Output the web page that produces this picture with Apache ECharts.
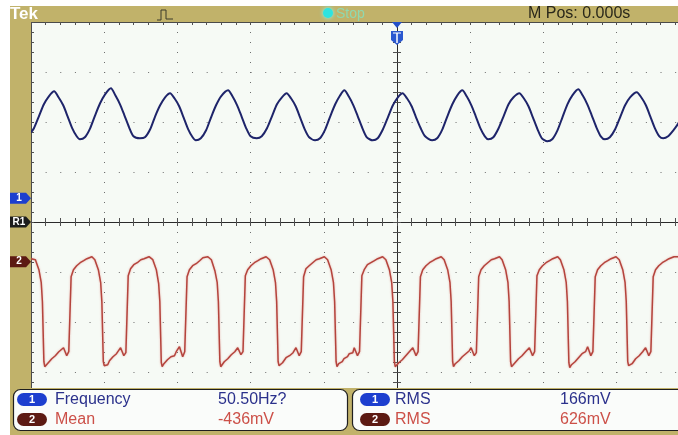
<!DOCTYPE html>
<html>
<head>
<meta charset="utf-8">
<script src="https://cdn.jsdelivr.net/npm/echarts@6/dist/echarts.min.js"></script>
<style>
html,body{margin:0;padding:0;background:#fff;}
#scope{width:678px;height:435px;}
</style>
</head>
<body>
<div id="scope"></div>
<script>
// Timebase: 25 ms/div, trigger at 0 ms, 10 divisions across
const timeMin = -125;
const timeMax = 125;
const timePerDiv = 25;
// Vertical: 500 mV/div on both channels, 8 divisions
const voltsPerDiv = 0.5;
const ch1GroundDiv = 0.474;   // channel 1 ground marker, divisions above centre
const ch2GroundDiv = -0.794;  // channel 2 ground marker, divisions above centre

// Channel 1 trace: [time ms, volts]
const ch1Points = [
  [-125.0,0.66],[-124.0,0.70],[-122.3,0.82],[-120.6,0.94],[-118.9,1.02],[-117.1,1.07],
  [-115.6,1.01],[-114.0,0.93],[-112.5,0.82],[-110.9,0.70],[-109.4,0.62],[-108.3,0.59],
  [-106.6,0.61],[-104.8,0.70],[-103.1,0.83],[-101.4,0.95],[-99.7,1.04],[-97.7,1.10],
  [-96.2,1.03],[-94.6,0.94],[-93.1,0.83],[-91.5,0.71],[-90.0,0.62],[-87.8,0.60],
  [-86.1,0.61],[-84.3,0.69],[-82.6,0.82],[-80.9,0.93],[-79.2,1.01],[-77.5,1.05],
  [-76.0,1.00],[-74.4,0.92],[-72.9,0.81],[-71.3,0.69],[-69.8,0.61],[-68.7,0.58],
  [-67.0,0.60],[-65.2,0.68],[-63.5,0.81],[-61.8,0.93],[-60.1,1.02],[-57.7,1.08],
  [-56.2,1.02],[-54.6,0.93],[-53.1,0.82],[-51.5,0.70],[-50.0,0.62],[-47.9,0.60],
  [-46.2,0.62],[-44.4,0.70],[-42.7,0.82],[-41.0,0.94],[-39.3,1.01],[-37.7,1.05],
  [-36.2,1.00],[-34.6,0.92],[-33.1,0.81],[-31.5,0.69],[-30.0,0.61],[-28.0,0.58],
  [-26.3,0.60],[-24.5,0.69],[-22.8,0.82],[-21.1,0.94],[-19.4,1.03],[-18.0,1.08],
  [-16.5,1.02],[-14.9,0.93],[-13.4,0.82],[-11.8,0.70],[-10.3,0.61],[-8.3,0.58],
  [-6.6,0.60],[-4.8,0.69],[-3.1,0.81],[-1.4,0.93],[0.3,1.01],[1.9,1.05],
  [3.4,1.00],[5.0,0.92],[6.5,0.81],[8.1,0.70],[9.6,0.62],[12.0,0.58],
  [13.7,0.60],[15.5,0.69],[17.2,0.82],[18.9,0.94],[20.6,1.03],[22.3,1.08],
  [23.8,1.02],[25.4,0.93],[26.9,0.82],[28.5,0.70],[30.0,0.62],[31.2,0.59],
  [32.9,0.61],[34.7,0.70],[36.4,0.82],[38.1,0.94],[39.8,1.01],[41.8,1.05],
  [43.3,1.00],[44.9,0.92],[46.4,0.81],[48.0,0.69],[49.5,0.60],[51.3,0.57],
  [53.0,0.59],[54.8,0.68],[56.5,0.81],[58.2,0.94],[59.9,1.03],[61.9,1.09],
  [63.4,1.03],[65.0,0.94],[66.5,0.83],[68.1,0.71],[69.6,0.62],[71.0,0.59],
  [72.7,0.61],[74.5,0.69],[76.2,0.81],[77.9,0.93],[79.6,1.01],[81.9,1.06],
  [83.4,1.01],[85.0,0.93],[86.5,0.82],[88.1,0.70],[89.6,0.62],[90.9,0.60],
  [92.6,0.62],[94.4,0.68],[96.1,0.75],[97.8,0.88]
];

// Channel 2 trace: [time ms, volts]
const ch2Points = [
  [-125.0,0.03],[-123.5,0.02],[-122.3,-0.08],[-121.5,-0.21],[-121.1,-0.40],
  [-120.6,-1.00],[-120.3,-1.05],[-119.7,-1.03],[-119.1,-1.01],[-118.5,-1.02],[-117.9,-0.97],[-117.3,-0.98],[-116.7,-0.94],[-116.1,-0.93],[-115.5,-0.90],[-114.9,-0.91],[-113.9,-0.86],[-112.8,-0.94],[-112.1,-0.90],[-111.5,-0.90],
  [-111.3,-0.15],[-110.5,-0.08],[-109.4,-0.04],[-108.2,-0.01],[-107.0,0.01],[-105.9,0.03],[-104.2,0.05],[-103.2,0.02],[-102.0,-0.08],[-101.2,-0.21],[-100.8,-0.40],
  [-100.3,-1.00],[-100.0,-1.04],[-99.4,-1.02],[-98.8,-1.03],[-98.2,-0.99],[-97.6,-0.98],[-97.0,-0.95],[-96.4,-0.96],[-95.8,-0.92],[-95.2,-0.91],[-94.4,-0.86],[-93.3,-0.94],[-92.6,-0.91],[-92.0,-0.89],
  [-91.8,-0.14],[-91.0,-0.07],[-89.9,-0.03],[-88.7,-0.01],[-87.5,0.02],[-86.4,0.03],[-84.7,0.05],[-83.4,0.02],[-82.2,-0.08],[-81.4,-0.22],[-81.0,-0.40],
  [-80.5,-1.01],[-80.2,-1.05],[-79.6,-1.02],[-79.0,-1.03],[-78.4,-0.98],[-77.8,-0.99],[-77.2,-0.95],[-76.6,-0.93],[-76.0,-0.94],[-75.4,-0.90],[-74.8,-0.90],[-74.3,-0.85],[-73.2,-0.95],[-72.5,-0.90],[-71.9,-0.91],
  [-71.7,-0.15],[-70.9,-0.08],[-69.8,-0.04],[-68.6,-0.02],[-67.4,0.01],[-66.3,0.04],[-64.6,0.05],[-63.4,0.02],[-62.2,-0.09],[-61.4,-0.21],[-61.0,-0.40],
  [-60.5,-1.00],[-60.2,-1.05],[-59.6,-1.03],[-59.0,-1.00],[-58.4,-1.01],[-57.8,-0.97],[-57.2,-0.97],[-56.6,-0.93],[-56.0,-0.94],[-55.4,-0.90],[-54.8,-0.91],[-54.4,-0.86],[-53.3,-0.93],[-52.6,-0.90],[-52.0,-0.90],
  [-51.8,-0.14],[-51.0,-0.08],[-49.9,-0.04],[-48.7,-0.01],[-47.5,0.01],[-46.4,0.03],[-44.7,0.05],[-43.5,0.02],[-42.3,-0.08],[-41.5,-0.21],[-41.1,-0.40],
  [-40.6,-1.00],[-40.3,-1.04],[-39.7,-1.03],[-39.1,-1.01],[-38.5,-1.02],[-37.9,-0.96],[-37.3,-0.98],[-36.7,-0.94],[-36.1,-0.92],[-35.5,-0.91],[-34.9,-0.90],[-34.5,-0.86],[-33.4,-0.94],[-32.7,-0.90],[-32.1,-0.89],
  [-31.9,-0.15],[-31.1,-0.07],[-30.0,-0.04],[-28.8,-0.01],[-27.6,0.02],[-26.5,0.03],[-24.8,0.05],[-23.7,0.02],[-22.5,-0.08],[-21.7,-0.21],[-21.3,-0.40],
  [-20.8,-1.00],[-20.5,-1.05],[-19.9,-1.02],[-19.3,-1.02],[-18.7,-1.00],[-18.1,-0.97],[-17.5,-0.96],[-16.9,-0.95],[-16.3,-0.92],[-15.7,-0.90],[-15.1,-0.91],[-14.6,-0.86],[-13.5,-0.94],[-12.8,-0.90],[-12.2,-0.90],
  [-12.0,-0.14],[-11.2,-0.08],[-10.1,-0.03],[-8.9,-0.01],[-7.7,0.01],[-6.6,0.03],[-4.9,0.05],[-3.8,0.02],[-2.6,-0.08],[-1.8,-0.21],[-1.4,-0.40],
  [-0.9,-1.00],[-0.6,-1.05],[0.0,-1.03],[0.6,-1.01],[1.2,-1.01],[1.8,-0.98],[2.4,-0.97],[3.0,-0.94],[3.6,-0.94],[4.2,-0.90],[4.8,-0.91],[5.4,-0.86],[6.5,-0.94],[7.2,-0.90],[7.8,-0.90],
  [8.0,-0.15],[8.8,-0.08],[9.9,-0.04],[11.1,-0.01],[12.3,0.01],[13.4,0.03],[15.1,0.05],[16.1,0.02],[17.3,-0.08],[18.1,-0.21],[18.5,-0.40],
  [19.0,-1.00],[19.3,-1.05],[19.9,-1.02],[20.5,-1.03],[21.1,-0.99],[21.7,-0.98],[22.3,-0.95],[22.9,-0.95],[23.5,-0.92],[24.1,-0.91],[24.7,-0.89],[25.3,-0.86],[26.4,-0.94],[27.1,-0.91],[27.7,-0.90],
  [27.9,-0.15],[28.7,-0.08],[29.8,-0.04],[31.0,-0.01],[32.2,0.02],[33.3,0.03],[35.0,0.05],[35.9,0.02],[37.1,-0.08],[37.9,-0.21],[38.3,-0.40],
  [38.8,-1.00],[39.1,-1.05],[39.7,-1.03],[40.3,-1.01],[40.9,-1.02],[41.5,-0.97],[42.1,-0.98],[42.7,-0.94],[43.3,-0.93],[43.9,-0.90],[44.5,-0.91],[45.2,-0.86],[46.3,-0.94],[47.0,-0.90],[47.6,-0.90],
  [47.8,-0.14],[48.6,-0.08],[49.7,-0.04],[50.9,-0.01],[52.1,0.01],[53.2,0.03],[54.9,0.05],[55.8,0.02],[57.0,-0.08],[57.8,-0.21],[58.2,-0.40],
  [58.7,-1.01],[59.0,-1.06],[59.6,-1.03],[60.2,-1.02],[60.8,-1.00],[61.4,-0.98],[62.0,-0.96],[62.6,-0.95],[63.2,-0.92],[63.8,-0.91],[64.4,-0.90],[65.1,-0.85],[66.2,-0.94],[66.9,-0.90],[67.5,-0.91],
  [67.7,-0.15],[68.5,-0.08],[69.6,-0.04],[70.8,-0.01],[72.0,0.01],[73.1,0.03],[74.8,0.05],[75.9,0.02],[77.1,-0.08],[77.9,-0.21],[78.3,-0.40],
  [78.8,-1.00],[79.1,-1.04],[79.7,-1.02],[80.3,-1.02],[80.9,-1.00],[81.5,-0.97],[82.1,-0.97],[82.7,-0.94],[83.3,-0.93],[83.9,-0.90],[84.5,-0.90],[84.9,-0.86],[86.0,-0.94],[86.7,-0.90],[87.3,-0.90],
  [87.5,-0.15],[88.3,-0.08],[89.4,-0.04],[90.6,-0.01],[91.8,0.01],[92.9,0.03],[94.6,0.05],[97.0,0.05],[100.0,0.04]
];

// Measurement readouts: channel, name, value
const measureChannels = [1, 2, 1, 2];
const measureNames = ['Frequency', 'Mean', 'RMS', 'RMS'];
const measureValues = ['50.50Hz?', '-436mV', '166mV', '626mV'];

const headerRight = 'M Pos: 0.000s';
const runState = 'Stop';

// Screen geometry (graticule runs past the right edge of the view)
const SCR = { left: 31, top: 22, width: 732, height: 400 };
const OLIVE = '#c1b26a';
const SCREEN_BG = '#f6faf5';
const DOT = '#6e6e6e';
const BLUE_TXT = '#2b318c';
const RED_TXT = '#cc5048';
const CH1_BADGE = '#1d3fcf';
const CH2_BADGE = '#5c1a12';

const chart = echarts.init(document.getElementById('scope'), null, { renderer: 'canvas' });

const divY = (SCR.height / 8);
const hDot = (SCR.width / 10) / 5;   // dot pitch along horizontal lines
const vDot = divY / 5;               // dot pitch along vertical lines

function chAxis(groundDiv) {
  return {
    type: 'value', show: false, gridIndex: 0,
    min: (-4 - groundDiv) * voltsPerDiv,
    max: (4 - groundDiv) * voltsPerDiv
  };
}

const tickStyle = { color: '#505050', width: 1 };

const option = {
  animation: false,
  backgroundColor: '#ffffff',
  grid: [{
    left: SCR.left, top: SCR.top, width: SCR.width, height: SCR.height,
    containLabel: false, outerBoundsMode: 'none',
    show: true, backgroundColor: SCREEN_BG, borderWidth: 0
  }],
  xAxis: [
    { // time axis: dotted vertical graticule
      type: 'value', min: timeMin, max: timeMax, interval: timePerDiv,
      position: 'bottom',
      axisLine: { show: false, onZero: false }, axisTick: { show: false }, axisLabel: { show: false },
      splitLine: { show: true, lineStyle: { color: DOT, width: 1, type: [1, vDot - 1] } }
    },
    { // top border with ticks
      type: 'value', min: timeMin, max: timeMax, interval: timePerDiv, position: 'top',
      axisLine: { show: true, onZero: false, lineStyle: { color: '#4a4a4a', width: 1 } },
      axisTick: { show: true, inside: true, length: 3, lineStyle: tickStyle },
      minorTick: { show: true, splitNumber: 5, length: 3, lineStyle: tickStyle },
      axisLabel: { show: false }, splitLine: { show: false }
    },
    { // centre horizontal line, ticks upward
      type: 'value', min: timeMin, max: timeMax, interval: timePerDiv, position: 'bottom',
      axisLine: { show: true, onZero: true, onZeroAxisIndex: 0, lineStyle: { color: '#2a2a2a', width: 1 } },
      axisTick: { show: true, inside: true, length: 4, lineStyle: tickStyle },
      minorTick: { show: true, splitNumber: 5, length: 4, lineStyle: tickStyle },
      axisLabel: { show: false }, splitLine: { show: false }
    },
    { // centre horizontal line, ticks downward
      type: 'value', min: timeMin, max: timeMax, interval: timePerDiv, position: 'bottom',
      axisLine: { show: false, onZero: true, onZeroAxisIndex: 0 },
      axisTick: { show: true, inside: false, length: 4, lineStyle: tickStyle },
      minorTick: { show: true, splitNumber: 5, length: 4, lineStyle: tickStyle },
      axisLabel: { show: false }, splitLine: { show: false }
    }
  ],
  yAxis: [
    { // divisions: dotted horizontal graticule + left border
      type: 'value', min: -4, max: 4, interval: 1, position: 'left',
      axisLine: { show: true, onZero: false, lineStyle: { color: '#4a4a4a', width: 1 } },
      axisTick: { show: true, inside: true, length: 3, lineStyle: tickStyle },
      minorTick: { show: true, splitNumber: 5, length: 3, lineStyle: tickStyle },
      axisLabel: { show: false },
      splitLine: { show: true, lineStyle: { color: DOT, width: 1, type: [1, hDot - 1] } }
    },
    chAxis(ch1GroundDiv),
    chAxis(ch2GroundDiv),
    { // centre vertical line, ticks to the right
      type: 'value', min: -4, max: 4, interval: 1, position: 'left',
      axisLine: { show: true, onZero: true, onZeroAxisIndex: 0, lineStyle: { color: '#2a2a2a', width: 1 } },
      axisTick: { show: true, inside: true, length: 4, lineStyle: tickStyle },
      minorTick: { show: true, splitNumber: 5, length: 4, lineStyle: tickStyle },
      axisLabel: { show: false }, splitLine: { show: false }
    },
    { // centre vertical line, ticks to the left
      type: 'value', min: -4, max: 4, interval: 1, position: 'left',
      axisLine: { show: false, onZero: true, onZeroAxisIndex: 0 },
      axisTick: { show: true, inside: false, length: 4, lineStyle: tickStyle },
      minorTick: { show: true, splitNumber: 5, length: 4, lineStyle: tickStyle },
      axisLabel: { show: false }, splitLine: { show: false }
    }
  ],
  series: [
    {
      name: 'CH1', type: 'line', xAxisIndex: 0, yAxisIndex: 1,
      data: ch1Points, showSymbol: false, smooth: 0.25, clip: true, z: 5,
      lineStyle: { color: '#1e246a', width: 2 }
    },
    {
      name: 'CH2', type: 'line', xAxisIndex: 0, yAxisIndex: 2,
      data: ch2Points, showSymbol: false, smooth: false, clip: true, z: 5,
      lineStyle: { color: '#b4443d', width: 1.5, shadowBlur: 2, shadowColor: 'rgba(220,120,110,0.6)' }
    }
  ],
  graphic: []
};

// Frame, header and readout panel
const g = [];
// header band and left strip
g.push({ type: 'rect', shape: { x: 10, y: 6, width: 668, height: 16 }, style: { fill: OLIVE }, z: 50 });
g.push({ type: 'rect', shape: { x: 10, y: 6, width: 21, height: 429 }, style: { fill: OLIVE }, z: 50 });
// bottom panel background
g.push({ type: 'rect', shape: { x: 10, y: 388, width: 668, height: 47 }, style: { fill: OLIVE }, z: 50 });

g.push({ type: 'text', x: 10, y: 14, z: 60, style: {
  text: 'Tek', fill: '#ffffff', fontSize: 17, fontWeight: 'bold', fontFamily: 'Liberation Sans', verticalAlign: 'middle'
}});
// trigger type symbol
g.push({ type: 'polyline', z: 60, shape: { points: [[157,20],[161,20],[161,10],[166,10],[166,19],[173,19]] },
  style: { stroke: '#3a3a2a', lineWidth: 1, fill: null } });
// acquisition status
g.push({ type: 'circle', z: 60, shape: { cx: 328, cy: 13, r: 5 }, style: { fill: '#2ee3e0', shadowBlur: 4, shadowColor: '#7ff' } });
g.push({ type: 'text', x: 336, y: 14, z: 60, style: {
  text: runState, fill: '#8fd9b0', fontSize: 14, fontFamily: 'Liberation Sans', verticalAlign: 'middle'
}});
g.push({ type: 'text', x: 528, y: 14, z: 60, style: {
  text: headerRight, fill: '#2a281a', fontSize: 16, fontFamily: 'Liberation Sans', verticalAlign: 'middle'
}});

// trigger position marker
g.push({ type: 'polygon', z: 60, shape: { points: [[392,22],[402,22],[397,28]] }, style: { fill: '#2450c8' } });
g.push({ type: 'polygon', z: 60, shape: { points: [[391,31],[403,31],[403,40],[397,45],[391,40]] }, style: { fill: '#2a58d0' } });
g.push({ type: 'line', z: 61, shape: { x1: 397, y1: 33, x2: 397, y2: 43 }, style: { stroke: '#ffffff', lineWidth: 1.5 } });
g.push({ type: 'line', z: 61, shape: { x1: 393, y1: 33, x2: 401, y2: 33 }, style: { stroke: '#ffffff', lineWidth: 1 } });

// left-side channel markers
function marker(yc, fill, label) {
  g.push({ type: 'polygon', z: 60, shape: { points: [[10,yc-5.5],[26,yc-5.5],[31,yc],[26,yc+5.5],[10,yc+5.5]] }, style: { fill: fill } });
  g.push({ type: 'text', x: 19, y: yc, z: 61, style: {
    text: label, fill: '#ffffff', fontSize: 10, fontWeight: 'bold', fontFamily: 'Liberation Sans', align: 'center', verticalAlign: 'middle'
  }});
}

// readout boxes
g.push({ type: 'rect', z: 60, shape: { x: 13.5, y: 389.5, width: 334, height: 41, r: 7 }, style: { fill: '#fafcfa', stroke: '#1e1e1e', lineWidth: 1.2 } });
g.push({ type: 'rect', z: 60, shape: { x: 352.5, y: 389.5, width: 345, height: 41, r: 7 }, style: { fill: '#fafcfa', stroke: '#1e1e1e', lineWidth: 1.2 } });

const rowY = [400, 420];
const colBadgeX = [17, 360];
const colNameX = [55, 395];
const colValueX = [218, 560];
measureNames.forEach(function (name, i) {
  const col = Math.floor(i / 2), row = i % 2;
  const ch = measureChannels[i];
  const badgeFill = ch === 1 ? CH1_BADGE : CH2_BADGE;
  const txt = ch === 1 ? BLUE_TXT : RED_TXT;
  const y = rowY[row];
  g.push({ type: 'rect', z: 62, shape: { x: colBadgeX[col], y: y - 7, width: 30, height: 13, r: 6.5 }, style: { fill: badgeFill } });
  g.push({ type: 'text', x: colBadgeX[col] + 15, y: y - 0.5, z: 63, style: {
    text: String(ch), fill: '#ffffff', fontSize: 11, fontWeight: 'bold', fontFamily: 'Liberation Sans', align: 'center', verticalAlign: 'middle'
  }});
  g.push({ type: 'text', x: colNameX[col], y: y, z: 63, style: {
    text: name, fill: txt, fontSize: 16, fontFamily: 'Liberation Sans', verticalAlign: 'middle'
  }});
  g.push({ type: 'text', x: colValueX[col], y: y, z: 63, style: {
    text: measureValues[i], fill: txt, fontSize: 16, fontFamily: 'Liberation Sans', verticalAlign: 'middle'
  }});
});

option.graphic = g;
chart.setOption(option);

// channel markers sit at each channel's ground level on the screen
const y1 = chart.convertToPixel({ yAxisIndex: 1 }, 0);
const y0 = chart.convertToPixel({ yAxisIndex: 0 }, 0);
const y2 = chart.convertToPixel({ yAxisIndex: 2 }, 0);
marker(y1, CH1_BADGE, '1');
marker(y0, '#1c1c1c', 'R1');
marker(y2, CH2_BADGE, '2');
chart.setOption({ graphic: g });
</script>
</body>
</html>
